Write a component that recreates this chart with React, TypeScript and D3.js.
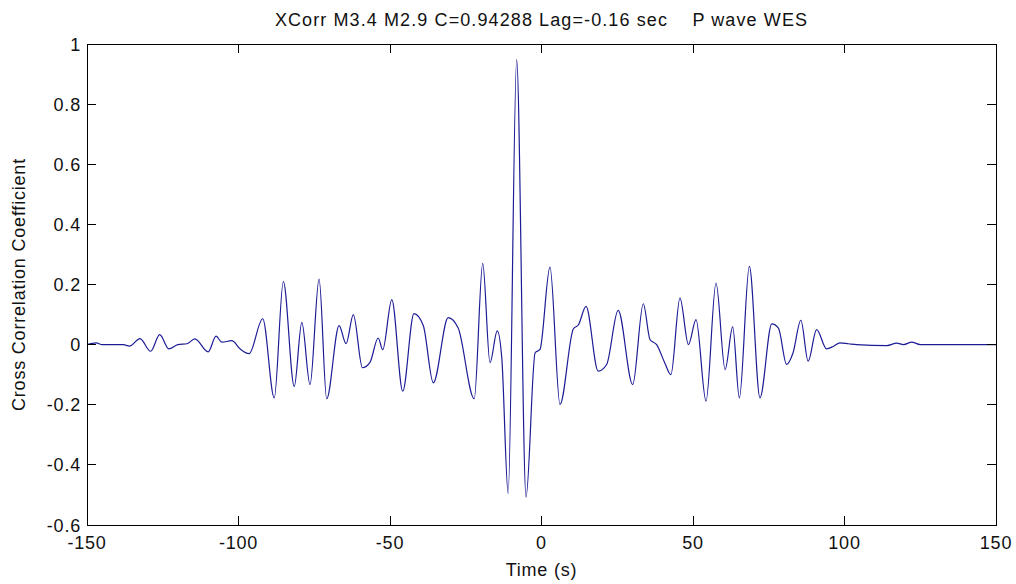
import React from "react";
import * as d3 from "d3";

const TITLE = "XCorr M3.4 M2.9 C=0.94288 Lag=-0.16 sec    P wave WES";
const X_LABEL = "Time (s)";
const Y_LABEL = "Cross Correlation Coefficient";
const X_TICKS = [-150, -100, -50, 0, 50, 100, 150];
const Y_TICKS = [-0.6, -0.4, -0.2, 0, 0.2, 0.4, 0.6, 0.8, 1];

// lag times (s) and correlation values
const LAG = [
  -150, -147, -145, -138, -136, -132.5, -129, -126, -123, -120, -117, -114.4, -110, -107.4, -105.5, -102.2,
  -99.5, -96.5, -92, -88.2, -85.2, -81.6, -79.1, -76.4, -73.4, -70.9, -66.8, -64.5, -62.1, -59.1, -56.6,
  -53.9, -52.4, -49.4, -45.8, -42.1, -39, -35.7, -30.8, -27.5, -22.2, -19.4, -17, -14.6, -13.1, -11, -8.2,
  -5.1, -2.1, -0.5, 2.8, 6.1, 10.5, 12.2, 14.7, 18.7, 21.5, 25.3, 30.1, 33.6, 35.8, 38, 40.7, 42.7, 45.7,
  48.5, 51, 54.3, 57.6, 60.6, 63.1, 65.3, 68.6, 72.1, 76, 78.2, 80.9, 83, 85.6, 88, 90.8, 94.1, 96.3, 98.5,
  101.3, 104, 114, 117.2, 119.5, 122.2, 125, 150,
];
const CORR = [
  0, 0.006, 0, 0, -0.005, 0.02, -0.022, 0.033, -0.014, 0, 0.003, 0.019, -0.024, 0.028, 0.008, 0.013,
  -0.014, -0.03, 0.086, -0.177, 0.21, -0.139, 0.074, -0.133, 0.218, -0.18, 0.063, 0.003, 0.1, -0.077, -0.059,
  0.022, -0.017, 0.15, -0.155, 0.103, 0.063, -0.127, 0.09, 0.055, -0.18, 0.27, -0.06, 0.046, -0.045, -0.495, 0.948,
  -0.507, -0.027, -0.016, 0.258, -0.199, 0.052, 0.066, 0.127, -0.088, -0.066, 0.114, -0.133, 0.136, 0.017, 0, -0.061, -0.1, 0.155,
  0, 0.083, -0.188, 0.205, -0.083, 0.059, -0.177, 0.26, -0.177, 0.069, 0.055, -0.066, -0.028, 0.081, -0.055, 0.05, -0.014, -0.006, 0.006,
  0.003, 0, -0.003, 0.005, 0, 0.008, 0, 0,
];

const W = 1016;
const H = 584;
const M = { left: 87, right: 1016 - 996, top: 44, bottom: 584 - 525 };
const FONT = "'Liberation Sans', Arial, sans-serif";

export default function App() {
  const x = d3.scaleLinear().domain([-150, 150]).range([M.left, W - M.right]);
  const y = d3.scaleLinear().domain([-0.6, 1]).range([H - M.bottom, M.top]);
  const pts: [number, number][] = LAG.map((t, i) => [t, CORR[i]]);
  const line = d3
    .line<[number, number]>()
    .x((d) => x(d[0]))
    .y((d) => y(d[1]))
    .curve(d3.curveMonotoneX);
  const tl = 9;
  const x0 = x(-150), x1 = x(150), y0 = y(-0.6), y1 = y(1);
  const textStyle = { fontFamily: FONT, fontSize: 18, letterSpacing: "0.8px", fill: "#111" } as const;
  return (
    <svg width={W} height={H} style={{ position: "absolute", left: 0, top: 0, background: "#fff" }}>
      <rect x={0} y={0} width={W} height={H} fill="#fff" />
      <path d={line(pts) || ""} fill="none" stroke="#1c1c96" strokeWidth={1.2} strokeLinejoin="round" />
      <g stroke="#000" strokeWidth={1} shapeRendering="crispEdges">
        <rect x={x0} y={y1} width={x1 - x0} height={y0 - y1} fill="none" />
        {X_TICKS.map((t) => (
          <g key={"xt" + t}>
            <line x1={x(t)} x2={x(t)} y1={y0} y2={y0 - tl} />
            <line x1={x(t)} x2={x(t)} y1={y1} y2={y1 + tl} />
          </g>
        ))}
        {Y_TICKS.map((t) => (
          <g key={"yt" + t}>
            <line x1={x0} x2={x0 + tl} y1={y(t)} y2={y(t)} />
            <line x1={x1} x2={x1 - tl} y1={y(t)} y2={y(t)} />
          </g>
        ))}
      </g>
      {X_TICKS.map((t) => (
        <text key={"xl" + t} x={x(t)} y={y0 + 24} textAnchor="middle" style={textStyle}>
          {String(t)}
        </text>
      ))}
      {Y_TICKS.map((t) => (
        <text key={"yl" + t} x={x0 - 6} y={y(t) + 6.5} textAnchor="end" style={textStyle}>
          {String(t)}
        </text>
      ))}
      <text x={x(0)} y={576} textAnchor="middle" style={textStyle}>
        {X_LABEL}
      </text>
      <text
        transform={`translate(25, ${(y0 + y1) / 2}) rotate(-90)`}
        textAnchor="middle"
        style={textStyle}
      >
        {Y_LABEL}
      </text>
      <text x={x(0)} y={26} textAnchor="middle" style={{ ...textStyle, letterSpacing: "1.1px", whiteSpace: "pre" }}>
        {TITLE}
      </text>
    </svg>
  );
}
